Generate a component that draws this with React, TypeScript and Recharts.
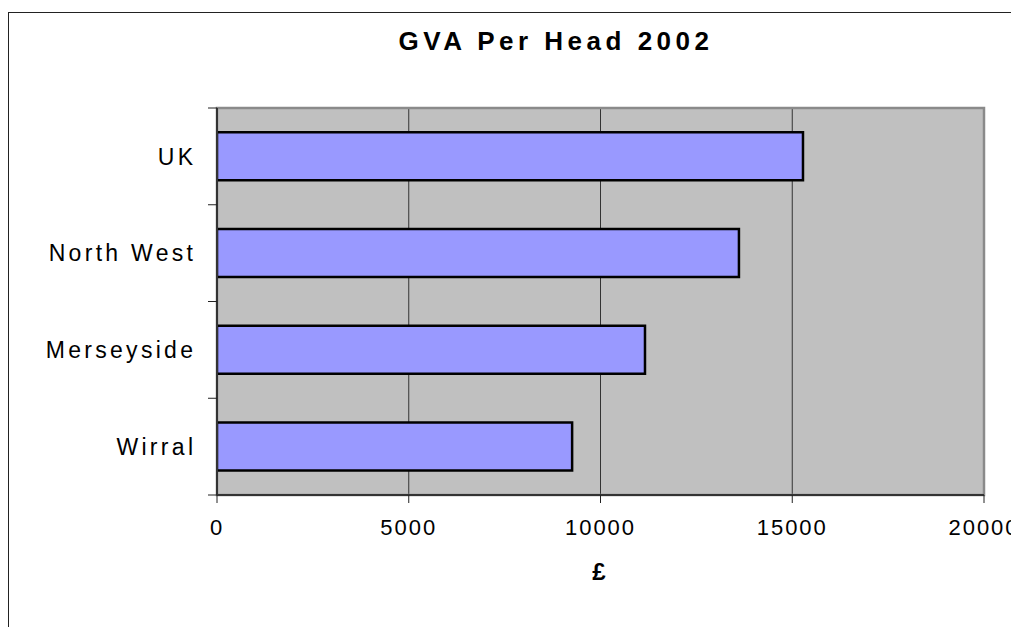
import React from 'react';
import { BarChart, Bar, XAxis, YAxis, CartesianGrid, ReferenceArea } from 'recharts';

const categories = ['UK', 'North West', 'Merseyside', 'Wirral'];
const gvaValues = [15280, 13610, 11160, 9260];
const xTicks = [0, 5000, 10000, 15000, 20000];
const title = 'GVA Per Head 2002';
const xLabel = '£';

const data = categories.map((name, i) => ({ name, value: gvaValues[i] }));

const W = 1011;
const H = 619;
const M_TOP = 100;
const X_AXIS_H = 132;
const PLOT_H = H - M_TOP - X_AXIS_H;
const BAND = PLOT_H / categories.length;
const FONT = '"Liberation Sans", Arial, sans-serif';
const Y_LS = 3.3;

const YTick = (props: any) => {
  const { x, y, payload, index } = props;
  const last = index === categories.length - 1;
  return (
    <g>
      <line x1={x - 9} x2={x} y1={y - BAND / 2} y2={y - BAND / 2} stroke="#222" strokeWidth={1} />
      {last && <line x1={x - 9} x2={x} y1={y + BAND / 2} y2={y + BAND / 2} stroke="#222" strokeWidth={1} />}
      <text x={x - 24 + Y_LS} y={y} dy="0.36em" textAnchor="end" fontSize={23} fill="#000" fontFamily={FONT} letterSpacing={Y_LS}>
        {payload.value}
      </text>
    </g>
  );
};

export default function App() {
  return (
    <div style={{ position: 'relative', width: W, height: H, fontFamily: FONT }}>
      <div style={{ position: 'absolute', left: 0, top: 4, width: 1008, height: 700, borderLeft: '1.5px solid #222', borderTop: '1.5px solid #222', borderRight: '1.5px solid #222', boxSizing: 'border-box' }} />
      <BarChart
        width={W}
        height={H}
        data={data}
        layout="vertical"
        margin={{ top: M_TOP, right: 35, bottom: 0, left: 0 }}
        barCategoryGap="25%"
        style={{ position: 'absolute', left: 0, top: 0 }}
      >
        <CartesianGrid horizontal={false} vertical stroke="#333" strokeWidth={1} fill="#c0c0c0" fillOpacity={1} />
        <ReferenceArea x1={0} x2={20000} fill="none" stroke="#8a8a8a" strokeWidth={2.5} ifOverflow="visible" />
        <XAxis
          type="number"
          domain={[0, 20000]}
          ticks={xTicks}
          interval={0}
          height={X_AXIS_H}
          tickSize={8}
          tickMargin={16}
          axisLine={{ stroke: '#333', strokeWidth: 2 }}
          tickLine={{ stroke: '#222', strokeWidth: 1 }}
          tick={{ fontSize: 22, fill: '#000', fontFamily: FONT, letterSpacing: 2 }}
          allowDataOverflow
        />
        <YAxis
          type="category"
          dataKey="name"
          width={209}
          tickSize={0}
          tickMargin={0}
          tickLine={false}
          axisLine={{ stroke: '#333', strokeWidth: 2 }}
          tick={<YTick />}
          interval={0}
        />
        <Bar dataKey="value" fill="#9999ff" stroke="#000" strokeWidth={2.5} isAnimationActive={false} />
      </BarChart>
      <div style={{ position: 'absolute', left: 298, top: 20, width: 500, textAlign: 'center', fontSize: 26, lineHeight: '26px', fontWeight: 'bold', letterSpacing: 4.5, color: '#000' }}>
        {title}
      </div>
      <div style={{ position: 'absolute', left: 491, top: 552, width: 200, textAlign: 'center', fontSize: 24, lineHeight: '24px', fontWeight: 'bold', color: '#000' }}>
        {xLabel}
      </div>
    </div>
  );
}
